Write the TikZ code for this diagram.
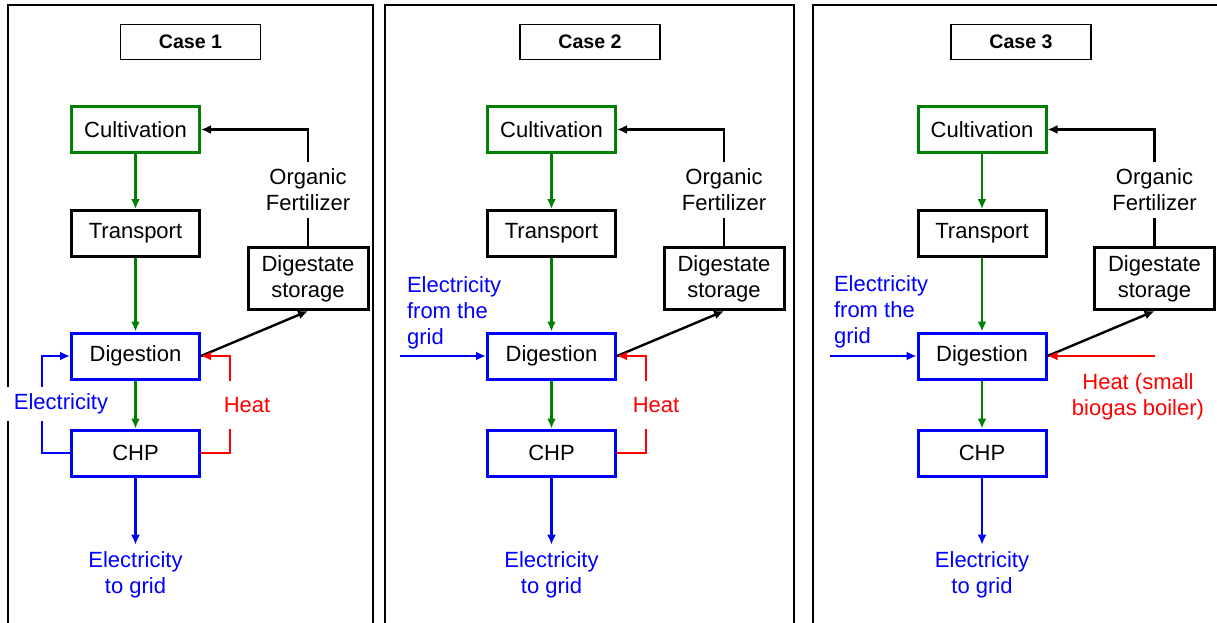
\documentclass[tikz,border=0pt]{standalone}
\usepackage{fontspec}
\setmainfont{Liberation Sans}
\usetikzlibrary{arrows.meta}
\tikzset{>={Latex[length=5pt,width=4.5pt]}}
\colorlet{green}{black!50!green}
\tikzset{
  stage/.style={draw,line width=1.5pt,minimum width=64pt,minimum height=23pt,font=\fontsize{11}{13}\selectfont},
  casebox/.style={draw,line width=0.9pt,minimum width=70pt,minimum height=17.5pt,font=\fontsize{9.8}{11}\selectfont\bfseries},
  lbl/.style={align=center,font=\fontsize{11}{13}\selectfont},
  flow/.style={->,line width=1.2pt}
}

\begin{document}
\begin{tikzpicture}[x=0.5pt,y=-0.5pt]
  \clip (0,0) rectangle (1217,622);
  % panels
  \draw[line width=0.75pt] (8,5) rectangle (373,640);
  \draw[line width=0.75pt] (385,5) rectangle (794,640);
  \draw[line width=0.75pt] (813,5) rectangle (1240,640);
  \foreach \i/\dx/\cx in {1/0/190.5, 2/416/590, 3/846.5/1021} {
    \node[casebox] (case\i) at (\cx,42) {Case \i};
    \node[stage,green] (cult\i) at (135.5+\dx,129.5) {\textcolor{black}{Cultivation}};
    \node[stage] (trans\i) at (135.5+\dx,233.5) {Transport};
    \node[stage,blue] (dig\i) at (135.5+\dx,356) {\textcolor{black}{Digestion}};
    \node[stage,blue] (chp\i) at (135.5+\dx,453) {\textcolor{black}{CHP}};
    \node[stage,minimum width=60pt,minimum height=31pt,align=center] (store\i) at (308+\dx,278.5) {Digestate\\storage};
    \node[lbl] (fert\i) at (308+\dx,190) {Organic\\Fertilizer};
    \node[lbl,blue] (grid\i) at (135.5+\dx,575) {Electricity\\to grid};
    \draw[flow,green] (cult\i) -- (trans\i);
    \draw[flow,green] (trans\i) -- (dig\i);
    \draw[flow,green] (dig\i) -- (chp\i);
    \draw[flow,blue] (chp\i) -- (grid\i);
    \draw[flow] (dig\i.east) -- (store\i.south);
    \draw[line width=1.2pt] (store\i) -- (fert\i);
    \draw[flow] (fert\i.north) |- (cult\i);
  }
  % case 1
  \draw[flow,blue] (chp1.west) -- ++(-28,0) |- (dig1.west);
  \node[lbl,blue,fill=white,inner xsep=5pt] (elec1) at (61,404) {Electricity};
  \draw[flow,red] (chp1.east) -- ++(29,0) |- (dig1.east);
  \node[lbl,red,fill=white,inner ysep=8pt] (heat1) at (247,405) {Heat};
  % case 2
  \node[lbl,blue,align=left,anchor=west] (egrid2) at (400,313) {Electricity\\from the\\grid};
  \coordinate (ein2) at (400,356);
  \draw[flow,blue] (ein2) -- (dig2);
  \draw[flow,red] (chp2.east) -- ++(29,0) |- (dig2.east);
  \node[lbl,red,fill=white,inner ysep=8pt] (heat2) at (656,405) {Heat};
  % case 3
  \node[lbl,blue,align=left,anchor=west] (egrid3) at (827,312) {Electricity\\from the\\grid};
  \coordinate (ein3) at (830,356);
  \draw[flow,blue] (ein3) -- (dig3);
  \coordinate (hin3) at (1155,356);
  \draw[flow,red] (hin3) -- (dig3);
  \node[lbl,red] (heat3) at (1138,397) {Heat (small\\biogas boiler)};
\end{tikzpicture}
\end{document}
